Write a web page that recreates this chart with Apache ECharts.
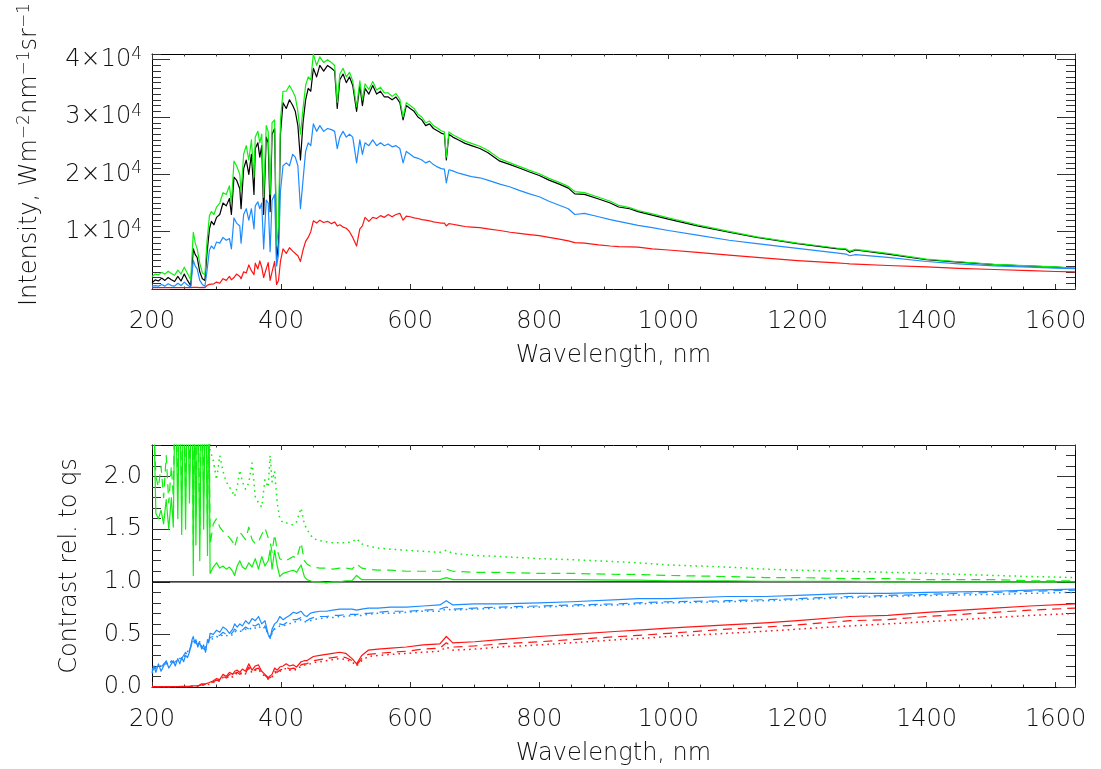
<!DOCTYPE html>
<html><head><meta charset="utf-8">
<script src="https://cdn.jsdelivr.net/npm/echarts@6/dist/echarts.min.js"></script>
<style>html,body{margin:0;padding:0;background:#fff}#c{width:1101px;height:769px}</style>
</head><body><div id="c"></div>
<script>
// ---------- axes / ticks ----------
const X_MIN = 200, X_MAX = 1630;
const X_TICK_LABELS = [200, 400, 600, 800, 1000, 1200, 1400, 1600];
const Y_TOP_TICKS = [10000, 20000, 30000, 40000];
const Y_BOT_TICKS = [0.0, 0.5, 1.0, 1.5, 2.0];
const REF_LEVEL = 1.0;

// ---------- top panel: intensity (values in units of 1000 W m^-2 nm^-1 sr^-1) ----------
const WL_TOP = [
 200,205,210,215,220,225,230,235,240,245,
 250,255,260,264,267,270,274,278,282,285,
 289,292,296,300,305,310,315,320,323,327,
 331,336,338,342,346,350,354,358,360,364,
 367,370,373,377,380,383,386,390,393,396,
 399,403,408,413,418,422,426,430,434,438,
 442,446,450,455,460,466,472,478,483,487,
 491,496,501,506,511,517,522,526,530,536,
 542,548,554,560,566,572,578,584,589,594,
 600,606,612,618,624,630,636,642,648,653,
 656,660,666,675,685,695,708,720,739,755,
 769,785,800,815,831,845,855,870,892,910,
 923,940,953,975,1000,1045,1094,1137,1200,1260,
 1275,1281,1290,1340,1400,1450,1505,1560,1600,1630];
const I_QS = [
 1.1,1.6,1.4,1.9,1.5,2.0,1.6,1.3,2.2,1.4,
 2.6,1.5,0.6,7.0,6.0,5.5,3.0,1.8,1.5,6.0,
 10.5,11.8,11.2,12.5,13.0,15.0,14.5,15.8,13.0,19.5,
 19.0,17.5,14.0,21.0,22.5,20.0,23.5,16.5,24.5,25.5,
 23.0,25.0,13.0,26.5,25.5,13.5,27.0,28.0,5.0,8.0,
 27.0,32.5,31.5,33.0,32.0,31.0,28.5,22.5,29.0,33.0,
 35.0,34.5,38.5,37.0,39.0,38.0,39.0,38.5,38.0,31.5,
 36.5,37.5,36.0,37.0,35.5,31.0,35.5,32.0,35.0,34.0,
 35.5,34.0,34.5,33.5,33.5,33.0,33.5,32.5,29.5,32.0,
 31.5,31.0,30.0,29.5,28.5,28.8,28.0,27.6,27.2,27.0,
 22.5,27.0,26.5,26.0,25.4,25.0,24.5,23.8,22.3,21.7,
 21.1,20.4,19.8,19.0,18.3,17.6,16.6,16.5,15.7,15.0,
 14.3,14.0,13.5,12.9,12.2,11.0,9.9,9.0,7.9,7.05,
 6.9,6.4,6.8,6.1,5.1,4.7,4.25,4.0,3.8,3.6];
const I_FAC = [
 2.2,2.6,2.5,2.9,2.6,3.1,2.7,2.4,3.3,2.6,
 3.8,2.7,1.6,9.9,8.0,7.0,4.5,2.8,2.5,8.0,
 12.8,13.5,13.0,14.3,15.0,16.8,16.5,18.0,15.0,22.3,
 21.5,20.0,17.0,23.5,25.0,22.5,26.0,19.5,26.5,27.5,
 25.5,27.0,16.0,28.5,27.5,16.5,29.0,29.5,7.5,11.0,
 29.5,34.5,34.5,35.5,34.5,33.5,31.0,27.0,31.5,35.5,
 37.0,36.5,41.0,39.0,40.5,39.5,40.0,39.5,39.0,32.5,
 37.5,38.5,37.0,37.8,36.3,31.8,36.3,33.0,35.8,34.8,
 36.2,34.7,35.2,34.2,34.2,33.6,34.1,33.1,30.0,32.5,
 32.0,31.5,30.5,30.0,29.0,29.3,28.5,28.1,27.6,27.4,
 23.0,27.4,26.9,26.4,25.8,25.4,24.9,24.2,22.7,22.0,
 21.4,20.7,20.1,19.3,18.6,17.9,17.0,16.8,16.0,15.3,
 14.6,14.2,13.7,13.1,12.4,11.2,10.05,9.1,8.0,7.15,
 7.0,6.6,6.9,6.2,5.2,4.75,4.3,4.05,3.85,3.65];
const I_PEN = [
 0.5,0.6,0.5,0.8,0.5,0.9,0.6,0.5,1.0,0.6,
 1.2,0.7,0.3,5.0,4.0,3.5,1.5,0.8,0.5,3.0,
 6.8,7.5,7.0,8.2,8.0,9.0,8.5,8.8,7.0,12.4,
 11.5,11.0,8.0,13.0,14.0,12.0,14.0,10.5,14.5,15.2,
 14.0,15.0,7.0,15.5,15.0,6.5,15.5,16.5,4.0,6.0,
 17.0,21.5,22.0,21.5,23.5,23.0,21.5,14.0,19.0,24.0,
 25.5,25.0,28.8,27.5,28.5,27.5,28.0,27.8,27.5,24.5,
 26.5,27.5,26.5,27.0,26.5,22.0,26.0,23.5,25.5,25.0,
 26.0,25.0,25.5,25.0,25.3,24.8,25.0,24.5,22.0,24.0,
 23.5,23.0,22.8,22.5,22.0,22.3,21.7,21.3,21.0,20.9,
 18.5,20.8,20.6,20.2,19.9,19.6,19.4,19.0,18.3,17.8,
 17.2,16.6,16.1,15.3,14.6,14.0,13.0,13.2,12.6,12.1,
 11.8,11.4,11.1,10.7,10.2,9.4,8.5,7.9,7.1,6.3,
 6.1,5.8,6.0,5.5,4.8,4.4,4.05,3.8,3.65,3.55];
const I_UMB = [
 0.25,0.25,0.25,0.25,0.25,0.25,0.25,0.25,0.25,0.25,
 0.25,0.25,0.25,0.3,0.3,0.3,0.25,0.3,0.25,0.6,
 0.8,1.0,0.9,1.2,1.0,1.8,1.5,2.2,1.6,2.0,
 2.6,2.2,1.8,3.0,2.8,4.2,3.2,2.5,4.5,3.5,
 4.9,3.8,2.0,3.5,4.6,1.5,3.0,4.8,0.8,1.5,
 4.8,7.0,6.2,7.2,6.6,6.2,5.8,4.8,6.8,8.3,
 9.0,10.0,11.9,11.5,12.0,11.6,11.8,11.4,11.7,11.0,
 11.2,10.8,10.6,10.0,9.0,7.5,10.5,11.0,12.5,11.8,
 12.5,12.3,12.8,12.5,13.0,12.6,13.0,13.2,12.0,12.7,
 12.6,12.4,12.3,12.1,12.0,11.9,11.7,11.6,11.5,11.5,
 11.0,11.4,11.3,11.1,10.9,10.8,10.7,10.5,10.2,9.9,
 9.7,9.5,9.3,9.0,8.7,8.4,8.1,8.0,7.7,7.5,
 7.4,7.35,7.3,7.0,6.8,6.4,5.9,5.5,4.95,4.55,
 4.45,4.4,4.35,4.1,3.85,3.6,3.4,3.2,3.05,3.0];

// ---------- bottom panel: contrast relative to quiet sun ----------
const WL_BOT = [
 200,203,206,210,214,218,222,226,230,233,
 236,240,243,246,249,252,255,258,262,264,
 266,268,271,274,277,280,283,286,288,290,
 295,300,305,310,315,320,325,328,332,336,
 340,345,350,355,360,365,370,375,380,383,
 386,390,394,398,403,408,413,419,424,431,
 436,440,445,450,460,470,480,491,500,510,
 517,525,535,550,570,594,620,646,656,666,
 700,739,800,850,923,953,1000,1091,1150,1200,
 1281,1340,1400,1505,1560,1630];
const C_FAC_SOLID = [
 3.0,2.5,1.65,1.6,1.68,1.55,1.78,1.5,1.8,1.52,
 3.0,1.6,3.0,1.45,3.0,1.5,3.0,1.75,3.0,1.06,
 3.0,1.35,3.0,1.2,3.0,1.5,3.0,1.25,3.0,1.08,
 1.14,1.18,1.13,1.15,1.12,1.14,1.1,1.06,1.15,1.2,
 1.14,1.12,1.18,1.14,1.22,1.12,1.24,1.15,1.2,1.3,
 1.12,1.3,1.15,1.05,1.08,1.09,1.1,1.11,1.09,1.16,
 1.05,1.02,1.01,1.0,1.0,0.99,1.0,1.0,1.01,1.01,
 1.06,1.02,1.02,1.02,1.02,1.02,1.02,1.02,1.04,1.02,
 1.02,1.02,1.02,1.02,1.015,1.015,1.01,1.01,1.005,1.005,
 1.005,1.0,1.0,1.0,1.0,1.0];
const C_FAC_DASH = [
 3.0,3.0,2.0,1.9,2.1,1.8,2.2,1.75,2.1,1.8,
 3.0,1.9,3.0,1.7,3.0,1.8,3.0,2.0,3.0,1.35,
 3.0,1.6,3.0,1.45,3.0,1.8,3.0,1.5,3.0,1.35,
 1.55,1.6,1.52,1.48,1.45,1.42,1.38,1.33,1.42,1.47,
 1.44,1.4,1.52,1.4,1.36,1.38,1.45,1.51,1.42,1.38,
 1.28,1.45,1.3,1.22,1.2,1.2,1.22,1.24,1.22,1.37,
 1.2,1.17,1.15,1.14,1.13,1.13,1.12,1.13,1.13,1.12,
 1.17,1.13,1.12,1.11,1.11,1.1,1.1,1.1,1.12,1.1,
 1.09,1.09,1.08,1.08,1.07,1.07,1.06,1.05,1.04,1.04,
 1.03,1.03,1.02,1.02,1.01,1.01];
const C_FAC_DOT = [
 3.0,3.0,3.0,3.0,3.0,3.0,3.0,3.0,3.0,3.0,
 3.0,3.0,3.0,3.0,3.0,3.0,3.0,3.0,3.0,3.0,
 3.0,3.0,3.0,3.0,3.0,3.0,3.0,3.0,3.0,2.25,
 2.15,1.97,2.2,2.05,1.95,1.9,1.85,1.81,1.9,2.06,
 1.95,1.88,1.94,2.13,1.81,1.75,1.71,1.97,1.9,2.2,
 1.95,2.05,1.75,1.6,1.56,1.56,1.55,1.54,1.57,1.7,
 1.55,1.5,1.45,1.41,1.39,1.38,1.37,1.37,1.37,1.38,
 1.41,1.36,1.34,1.32,1.31,1.3,1.29,1.28,1.3,1.27,
 1.25,1.24,1.22,1.21,1.19,1.18,1.16,1.14,1.12,1.11,
 1.1,1.09,1.08,1.06,1.05,1.04];
const C_PEN_SOLID = [
 0.16,0.2,0.14,0.22,0.15,0.2,0.25,0.18,0.22,0.25,
 0.2,0.27,0.22,0.28,0.24,0.3,0.28,0.33,0.45,0.48,
 0.42,0.45,0.38,0.42,0.36,0.4,0.33,0.45,0.43,0.51,
 0.5,0.54,0.52,0.57,0.55,0.51,0.55,0.6,0.57,0.6,
 0.58,0.63,0.6,0.65,0.63,0.67,0.6,0.63,0.5,0.46,
 0.55,0.6,0.62,0.67,0.64,0.66,0.68,0.71,0.7,0.72,
 0.68,0.67,0.7,0.71,0.72,0.72,0.73,0.74,0.74,0.74,
 0.73,0.74,0.75,0.75,0.76,0.76,0.77,0.78,0.82,0.78,
 0.79,0.79,0.8,0.81,0.83,0.84,0.84,0.86,0.86,0.87,
 0.89,0.89,0.9,0.91,0.92,0.93];
const C_PEN_DASH = [
 0.14,0.18,0.17,0.2,0.18,0.22,0.24,0.2,0.25,0.23,
 0.24,0.25,0.26,0.27,0.26,0.33,0.3,0.35,0.42,0.46,
 0.44,0.42,0.4,0.44,0.38,0.37,0.35,0.42,0.44,0.47,
 0.48,0.5,0.49,0.52,0.5,0.49,0.52,0.55,0.53,0.55,
 0.54,0.57,0.55,0.59,0.58,0.6,0.56,0.58,0.5,0.47,
 0.52,0.56,0.58,0.6,0.59,0.61,0.62,0.64,0.64,0.66,
 0.63,0.63,0.65,0.66,0.67,0.67,0.68,0.68,0.69,0.69,
 0.69,0.7,0.7,0.71,0.72,0.72,0.73,0.74,0.76,0.74,
 0.75,0.76,0.77,0.78,0.79,0.8,0.81,0.82,0.83,0.84,
 0.86,0.87,0.88,0.9,0.91,0.92];
const C_PEN_DOT = [
 0.13,0.16,0.18,0.19,0.2,0.21,0.22,0.22,0.24,0.24,
 0.25,0.24,0.27,0.26,0.28,0.31,0.32,0.36,0.4,0.45,
 0.43,0.41,0.42,0.43,0.39,0.36,0.36,0.4,0.43,0.45,
 0.46,0.48,0.47,0.5,0.49,0.48,0.5,0.53,0.52,0.53,
 0.53,0.55,0.54,0.57,0.56,0.58,0.55,0.57,0.5,0.47,
 0.51,0.55,0.56,0.58,0.58,0.59,0.6,0.62,0.62,0.64,
 0.62,0.62,0.63,0.64,0.65,0.66,0.66,0.67,0.67,0.68,
 0.68,0.68,0.69,0.7,0.7,0.71,0.72,0.72,0.74,0.73,
 0.74,0.75,0.76,0.77,0.78,0.79,0.8,0.81,0.82,0.83,
 0.85,0.86,0.87,0.88,0.89,0.9];
const C_UMB_SOLID = [
 0.003,0.003,0.003,0.003,0.003,0.003,0.003,0.003,0.003,0.003,
 0.003,0.003,0.003,0.005,0.003,0.005,0.004,0.006,0.01,0.02,
 0.01,0.02,0.01,0.02,0.03,0.02,0.03,0.04,0.04,0.05,
 0.06,0.08,0.07,0.12,0.1,0.14,0.12,0.15,0.16,0.14,
 0.17,0.15,0.22,0.16,0.2,0.21,0.15,0.12,0.09,0.08,
 0.12,0.18,0.16,0.19,0.2,0.22,0.2,0.21,0.19,0.24,
 0.25,0.25,0.27,0.29,0.3,0.31,0.32,0.33,0.32,0.27,
 0.22,0.3,0.35,0.36,0.37,0.38,0.4,0.41,0.48,0.42,
 0.43,0.45,0.48,0.5,0.53,0.54,0.56,0.59,0.61,0.63,
 0.67,0.68,0.71,0.75,0.77,0.79];
const C_UMB_DASH = [
 0,0,0,0,0,0,0,0,0,0,
 0,0,0,0,0,0,0,0.003,0.01,0.015,
 0.01,0.015,0.01,0.02,0.02,0.02,0.025,0.03,0.03,0.04,
 0.05,0.065,0.06,0.1,0.085,0.12,0.1,0.13,0.14,0.12,
 0.15,0.13,0.19,0.14,0.17,0.18,0.13,0.11,0.08,0.07,
 0.1,0.15,0.14,0.16,0.17,0.19,0.17,0.18,0.17,0.21,
 0.22,0.22,0.24,0.25,0.26,0.27,0.28,0.29,0.28,0.25,
 0.21,0.27,0.31,0.32,0.33,0.34,0.36,0.37,0.42,0.38,
 0.39,0.41,0.43,0.45,0.48,0.49,0.51,0.55,0.57,0.59,
 0.63,0.64,0.67,0.71,0.73,0.75];
const C_UMB_DOT = [
 0,0,0,0,0,0,0,0,0,0,
 0,0,0,0,0,0,0,0.003,0.008,0.012,
 0.008,0.012,0.008,0.015,0.015,0.015,0.02,0.025,0.025,0.035,
 0.045,0.06,0.055,0.09,0.08,0.11,0.095,0.12,0.13,0.115,
 0.14,0.125,0.18,0.135,0.16,0.17,0.125,0.105,0.075,0.065,
 0.095,0.14,0.13,0.15,0.16,0.18,0.16,0.17,0.16,0.2,
 0.21,0.21,0.22,0.23,0.24,0.25,0.26,0.27,0.26,0.24,
 0.2,0.25,0.29,0.3,0.31,0.32,0.33,0.34,0.38,0.35,
 0.36,0.38,0.4,0.42,0.45,0.46,0.48,0.51,0.53,0.55,
 0.58,0.6,0.62,0.66,0.68,0.7];

// ---------- build ----------
function pairs(wl, v, scale) {
  if (wl.length !== v.length) throw new Error('length mismatch ' + wl.length + ' vs ' + v.length);
  return wl.map((w, i) => [w, v[i] * scale]);
}
const FONT = 'DejaVu Sans';
const FW = 200;
const TXT = '#111';
const GREEN = '#10ee10', BLUE = '#1e8cff', RED = '#ff1414', BLACK = '#000';
const TICK = { color: '#333', width: 1 };

function xAxesFor(grid) {
  const common = { type: 'value', gridIndex: grid, min: X_MIN, max: X_MAX, splitLine: { show: false } };
  return [
    Object.assign({}, common, {
      position: 'bottom', interval: 200,
      axisLine: { show: true, onZero: false, lineStyle: { color: '#000', width: 1 } },
      axisTick: { show: true, inside: true, length: 5, lineStyle: TICK },
      axisLabel: { show: true, margin: 21, fontFamily: FONT, fontWeight: FW, fontSize: 24, color: TXT, showMaxLabel: false,
        formatter: v => X_TICK_LABELS.includes(v) ? String(v) : '' },
      name: 'Wavelength, nm', nameLocation: 'middle', nameGap: 55,
      nameTextStyle: { fontFamily: FONT, fontWeight: FW, fontSize: 24, color: TXT }
    }),
    Object.assign({}, common, {
      position: 'bottom', interval: 50,
      axisLine: { show: false, onZero: false }, axisLabel: { show: false },
      axisTick: { show: true, inside: true, length: 2.5, lineStyle: TICK }
    }),
    Object.assign({}, common, {
      position: 'top', interval: 200,
      axisLine: { show: true, onZero: false, lineStyle: { color: '#000', width: 1 } },
      axisLabel: { show: false },
      axisTick: { show: true, inside: true, length: 5, lineStyle: TICK }
    }),
    Object.assign({}, common, {
      position: 'top', interval: 50,
      axisLine: { show: false, onZero: false }, axisLabel: { show: false },
      axisTick: { show: true, inside: true, length: 2.5, lineStyle: TICK }
    })
  ];
}
function yAxesFor(grid, min, max, major, minor, labelFmt, name, nameGap, rich, namePad) {
  const common = { type: 'value', gridIndex: grid, min: min, max: max, splitLine: { show: false } };
  return [
    Object.assign({}, common, {
      position: 'left', interval: major,
      axisLine: { show: true, onZero: false, lineStyle: { color: '#000', width: 1 } },
      axisTick: { show: true, inside: true, length: 18, lineStyle: TICK },
      axisLabel: { show: true, margin: 10, fontFamily: FONT, fontWeight: FW, fontSize: 24, color: TXT, showMaxLabel: false,
        formatter: labelFmt, rich: rich },
      name: name, nameLocation: 'middle', nameGap: nameGap,
      nameTextStyle: { fontFamily: FONT, fontWeight: FW, fontSize: 24, color: TXT, rich: rich, padding: namePad }
    }),
    Object.assign({}, common, {
      position: 'left', interval: minor,
      axisLine: { show: false, onZero: false }, axisLabel: { show: false },
      axisTick: { show: true, inside: true, length: 9, lineStyle: TICK }
    }),
    Object.assign({}, common, {
      position: 'right', interval: major,
      axisLine: { show: true, onZero: false, lineStyle: { color: '#000', width: 1 } },
      axisLabel: { show: false },
      axisTick: { show: true, inside: true, length: 18, lineStyle: TICK }
    }),
    Object.assign({}, common, {
      position: 'right', interval: minor,
      axisLine: { show: false, onZero: false }, axisLabel: { show: false },
      axisTick: { show: true, inside: true, length: 9, lineStyle: TICK }
    })
  ];
}
const RICH = {
  a: { fontFamily: FONT, fontWeight: FW, fontSize: 24, color: TXT, lineHeight: 28 },
  s: { fontFamily: FONT, fontWeight: FW, fontSize: 17, color: TXT, lineHeight: 17, verticalAlign: 'top' }
};
const topFmt = v => Y_TOP_TICKS.includes(v) ? '{a|' + (v / 10000) + '×10}{s|4}' : '';
const botFmt = v => Y_BOT_TICKS.some(t => Math.abs(t - v) < 1e-9) ? v.toFixed(1) : '';

function line(xi, yi, data, color, type, width) {
  return { type: 'line', xAxisIndex: xi, yAxisIndex: yi, data: data, showSymbol: false, symbol: 'none',
    clip: true, silent: true, animation: false,
    lineStyle: { color: color, width: width || 1.2, type: type || 'solid', cap: 'butt', join: 'round' } };
}
const DASH = [9, 6], DOT = [1.6, 4];

const option = {
  backgroundColor: '#fff',
  animation: false,
  grid: [
    { left: 152, top: 48, width: 923, height: 241 },
    { left: 152, top: 445, width: 923, height: 242 }
  ],
  xAxis: xAxesFor(0).concat(xAxesFor(1)),
  yAxis: yAxesFor(0, 0, 41000, 10000, 1000, topFmt,
            '{a|Intensity, Wm}{s|−2}{a|nm}{s|−1}{a|sr}{s|−1}', 108, RICH, [0, 0, 0, 34])
    .concat(yAxesFor(1, 0, 2.3, 0.5, 0.1, botFmt, 'Contrast rel. to qs', 70, undefined, 0)),
  series: [
    line(0, 0, pairs(WL_TOP, I_QS, 1000), BLACK),
    line(0, 0, pairs(WL_TOP, I_FAC, 1000), GREEN),
    line(0, 0, pairs(WL_TOP, I_PEN, 1000), BLUE),
    line(0, 0, pairs(WL_TOP, I_UMB, 1000), RED),

    line(4, 4, [[X_MIN, REF_LEVEL], [X_MAX, REF_LEVEL]], BLACK, 'solid', 1.2),
    line(4, 4, pairs(WL_BOT, C_FAC_DOT, 1), GREEN, DOT, 1.5),
    line(4, 4, pairs(WL_BOT, C_FAC_DASH, 1), GREEN, DASH),
    line(4, 4, pairs(WL_BOT, C_FAC_SOLID, 1), GREEN),
    line(4, 4, pairs(WL_BOT, C_PEN_DOT, 1), BLUE, DOT, 1.5),
    line(4, 4, pairs(WL_BOT, C_PEN_DASH, 1), BLUE, DASH),
    line(4, 4, pairs(WL_BOT, C_PEN_SOLID, 1), BLUE),
    line(4, 4, pairs(WL_BOT, C_UMB_DOT, 1), RED, DOT, 1.5),
    line(4, 4, pairs(WL_BOT, C_UMB_DASH, 1), RED, DASH),
    line(4, 4, pairs(WL_BOT, C_UMB_SOLID, 1), RED)
  ]
};
const chart = echarts.init(document.getElementById('c'), null, { renderer: 'canvas' });
chart.setOption(option);
</script>
</body></html>
